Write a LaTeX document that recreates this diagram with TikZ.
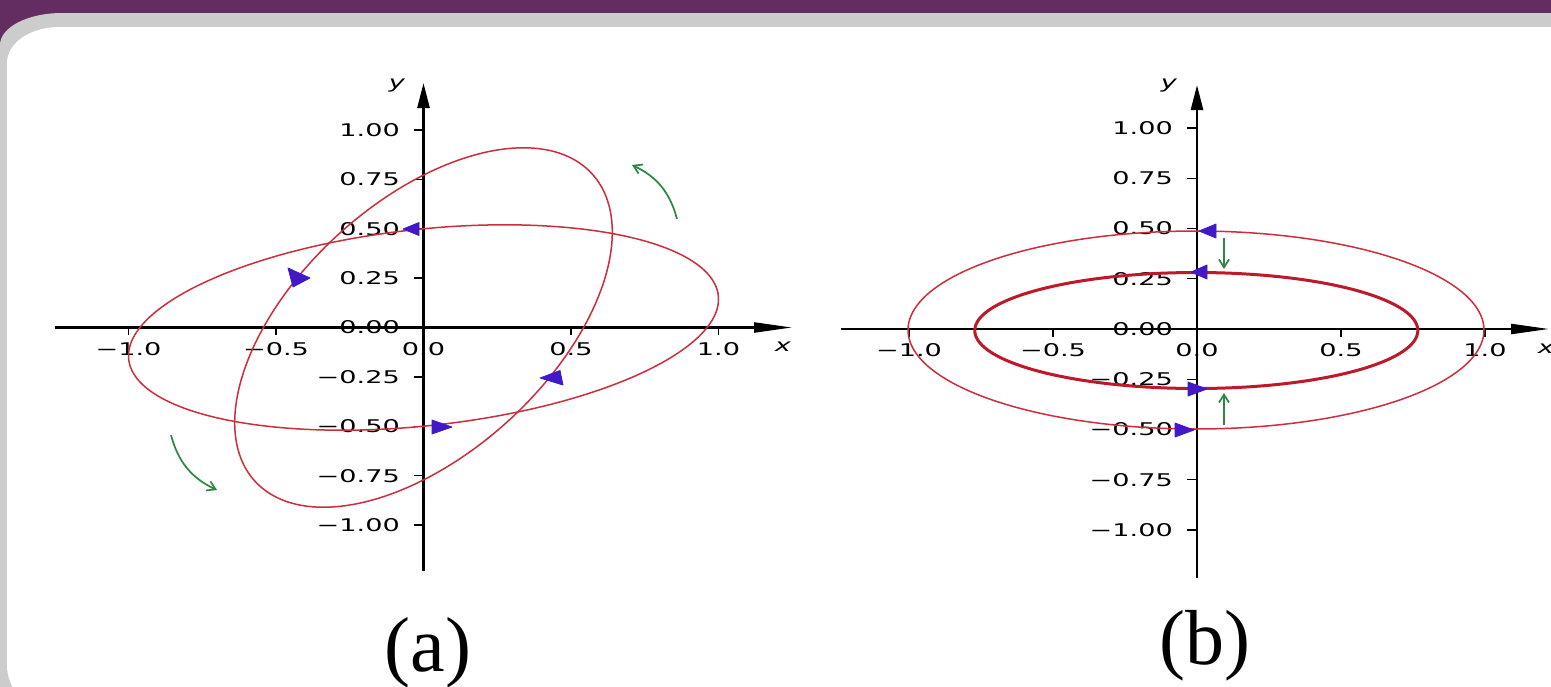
\documentclass[tikz,border=0pt]{standalone}
\usepackage{fontspec}
\setmainfont{Liberation Serif}
\newfontfamily\dvs{DejaVu Sans}
\usetikzlibrary{arrows.meta}
\definecolor{frpurple}{RGB}{100,45,98}
\definecolor{frgrey}{RGB}{204,204,204}
\definecolor{curvered}{RGB}{205,45,60}
\definecolor{innerred}{RGB}{190,25,40}
\definecolor{mkblue}{RGB}{65,25,200}
\definecolor{rotgreen}{RGB}{45,135,65}
\newcommand\stx[1]{\scalebox{1.55}[1]{#1}}
\begin{document}
\begin{tikzpicture}[x=1pt,y=-1pt,
  ticklab/.style={font=\dvs\fontsize{17.5}{17.5}\selectfont, inner sep=0pt},
  axlab/.style={font=\dvs\itshape\fontsize{17.5}{17.5}\selectfont, inner sep=0pt},
  caption/.style={font=\fontsize{78}{80}\selectfont, inner sep=0pt, anchor=base},
  xaxis/.style={line width=2.2pt, -{Triangle[length=38pt,width=10pt]}},
  yaxis/.style={line width=2.6pt, -{Triangle[length=25pt,width=12pt]}},
  tickmark/.style={line width=1.4pt},
  ellipseline/.style={curvered, line width=1.5pt},
  innerline/.style={innerred, line width=3pt},
  marker/.style={fill=mkblue, draw=mkblue, line width=0.8pt, line join=round},
  greenarrow/.style={rotgreen, line width=1.7pt, -{Straight Barb[length=8pt,width=10pt]}}
]
\useasboundingbox (0,0) rectangle (1551,686);
\clip (0,0) rectangle (1551,686);
% frame
\fill[frpurple] (0,0) rectangle (1551,80);
\fill[frgrey] (0,700) -- (0,45) .. controls (0,27.3) and (27.8,13) .. (62,13) -- (1560,13) -- (1560,700) -- cycle;
\fill[white] (7,665) -- (7,63) .. controls (7,43.1) and (30.3,27) .. (59,27) -- (1560,27) -- (1560,720) -- (52,710) .. controls (27.1,710) and (7,689.9) .. (7,665) -- cycle;

% ===== plot (a) =====
\foreach \v/\lab [count=\i] in {1/1.00,0.75/0.75,0.5/0.50,0.25/0.25,0/0.00,-0.25/−0.25,-0.5/−0.50,-0.75/−0.75,-1/−1.00} {
  \node[ticklab, anchor=east] (aylab\i) at (400,{327.5-197.5*\v}) {\stx{\lab}};
  \draw[tickmark] (413.5,{327.5-197.5*\v}) -- (423.5,{327.5-197.5*\v});
}
\foreach \v/\lab [count=\i] in {-1/−1.0,-0.5/−0.5,0/0.0,0.5/0.5,1/1.0} {
  \node[ticklab] (axlab\i) at ({423.5+295*\v},349) {\stx{\lab}};
  \draw[tickmark] ({423.5+295*\v},327.5) -- ({423.5+295*\v},335);
}
\node[axlab] (axname) at (783,347) {\stx{x}};
\node[axlab] (ayname) at (397,86) {\stx{y}};
\coordinate (axs) at (55,327.5);
\coordinate (axe) at (792,327.5);
\coordinate (ays) at (423.5,571);
\coordinate (aye) at (423.5,83);
\draw[xaxis] (axs) -- (axe);
\draw[yaxis] (ays) -- (aye);
% ellipses
\draw[ellipseline] plot[domain=0:360, samples=241, variable=\ang] ({423.5+295*cos(\ang)}, {327.5-197.5*0.52*sin(\ang+16)});
\draw[ellipseline] plot[domain=0:360, samples=241, variable=\ang] ({423.5+295*0.64*cos(\ang-58)}, {327.5-197.5*0.91*cos(\ang)});
% rotation arrows
\coordinate (g1s) at (677,219);
\coordinate (g1e) at (632,165);
\coordinate (g2s) at (171,435);
\coordinate (g2e) at (217,490);
\draw[greenarrow] (g1s) to[bend right=25] (g1e);
\draw[greenarrow] (g2s) to[bend right=25] (g2e);
% direction markers
\fill[marker] (403,229) -- (419,222.5) -- (419,235.5) -- cycle;
\fill[marker] (452,427) -- (432,420) -- (432,434) -- cycle;
\fill[marker] (310,278) -- (288,268) -- (293,287) -- cycle;
\fill[marker] (540,378) -- (560,370.5) -- (563,385) -- cycle;

% ===== plot (b) =====
\foreach \v/\lab [count=\i] in {1/1.00,0.75/0.75,0.5/0.50,0.25/0.25,0/0.00,-0.25/−0.25,-0.5/−0.50,-0.75/−0.75,-1/−1.00} {
  \node[ticklab, anchor=east] (bylab\i) at (1173,{329-201*\v}) {\stx{\lab}};
  \draw[tickmark] (1187,{329-201*\v}) -- (1197,{329-201*\v});
}
\foreach \v/\lab [count=\i] in {-1/−1.0,-0.5/−0.5,0/0.0,0.5/0.5,1/1.0} {
  \node[ticklab] (bxlab\i) at ({1197+288*\v},350) {\stx{\lab}};
  \draw[tickmark] ({1197+288*\v},329) -- ({1197+288*\v},336.5);
}
\node[axlab] (bxname) at (1546,349) {\stx{x}};
\node[axlab] (byname) at (1169,86) {\stx{y}};
\coordinate (bxs) at (841,329);
\coordinate (bxe) at (1549,329);
\coordinate (bys) at (1197,578);
\coordinate (bye) at (1197,85);
\draw[xaxis] (bxs) -- (bxe);
\draw[yaxis] (bys) -- (bye);
\draw[ellipseline] plot[domain=0:360, samples=241, variable=\ang] ({1196+288*cos(\ang)}, {330-99*sin(\ang)});
\draw[innerline] plot[domain=0:360, samples=241, variable=\ang] ({1196.3+221.5*cos(\ang)}, {330.5-58*sin(\ang)});
\coordinate (g3s) at (1224,238);
\coordinate (g3e) at (1224,269);
\coordinate (g4s) at (1224,425);
\coordinate (g4e) at (1224,393);
\draw[greenarrow] (g3s) -- (g3e);
\draw[greenarrow] (g4s) -- (g4e);
\fill[marker] (1199,231) -- (1216,224) -- (1216,238) -- cycle;
\fill[marker] (1191,272) -- (1207,265) -- (1207,279) -- cycle;
\fill[marker] (1207,389) -- (1188,382) -- (1188,396) -- cycle;
\fill[marker] (1194,430) -- (1175,423) -- (1175,437) -- cycle;

% captions
\node[caption] (capa) at (428,671) {(a)};
\node[caption] (capb) at (1205,664) {(b)};
\end{tikzpicture}
\end{document}
